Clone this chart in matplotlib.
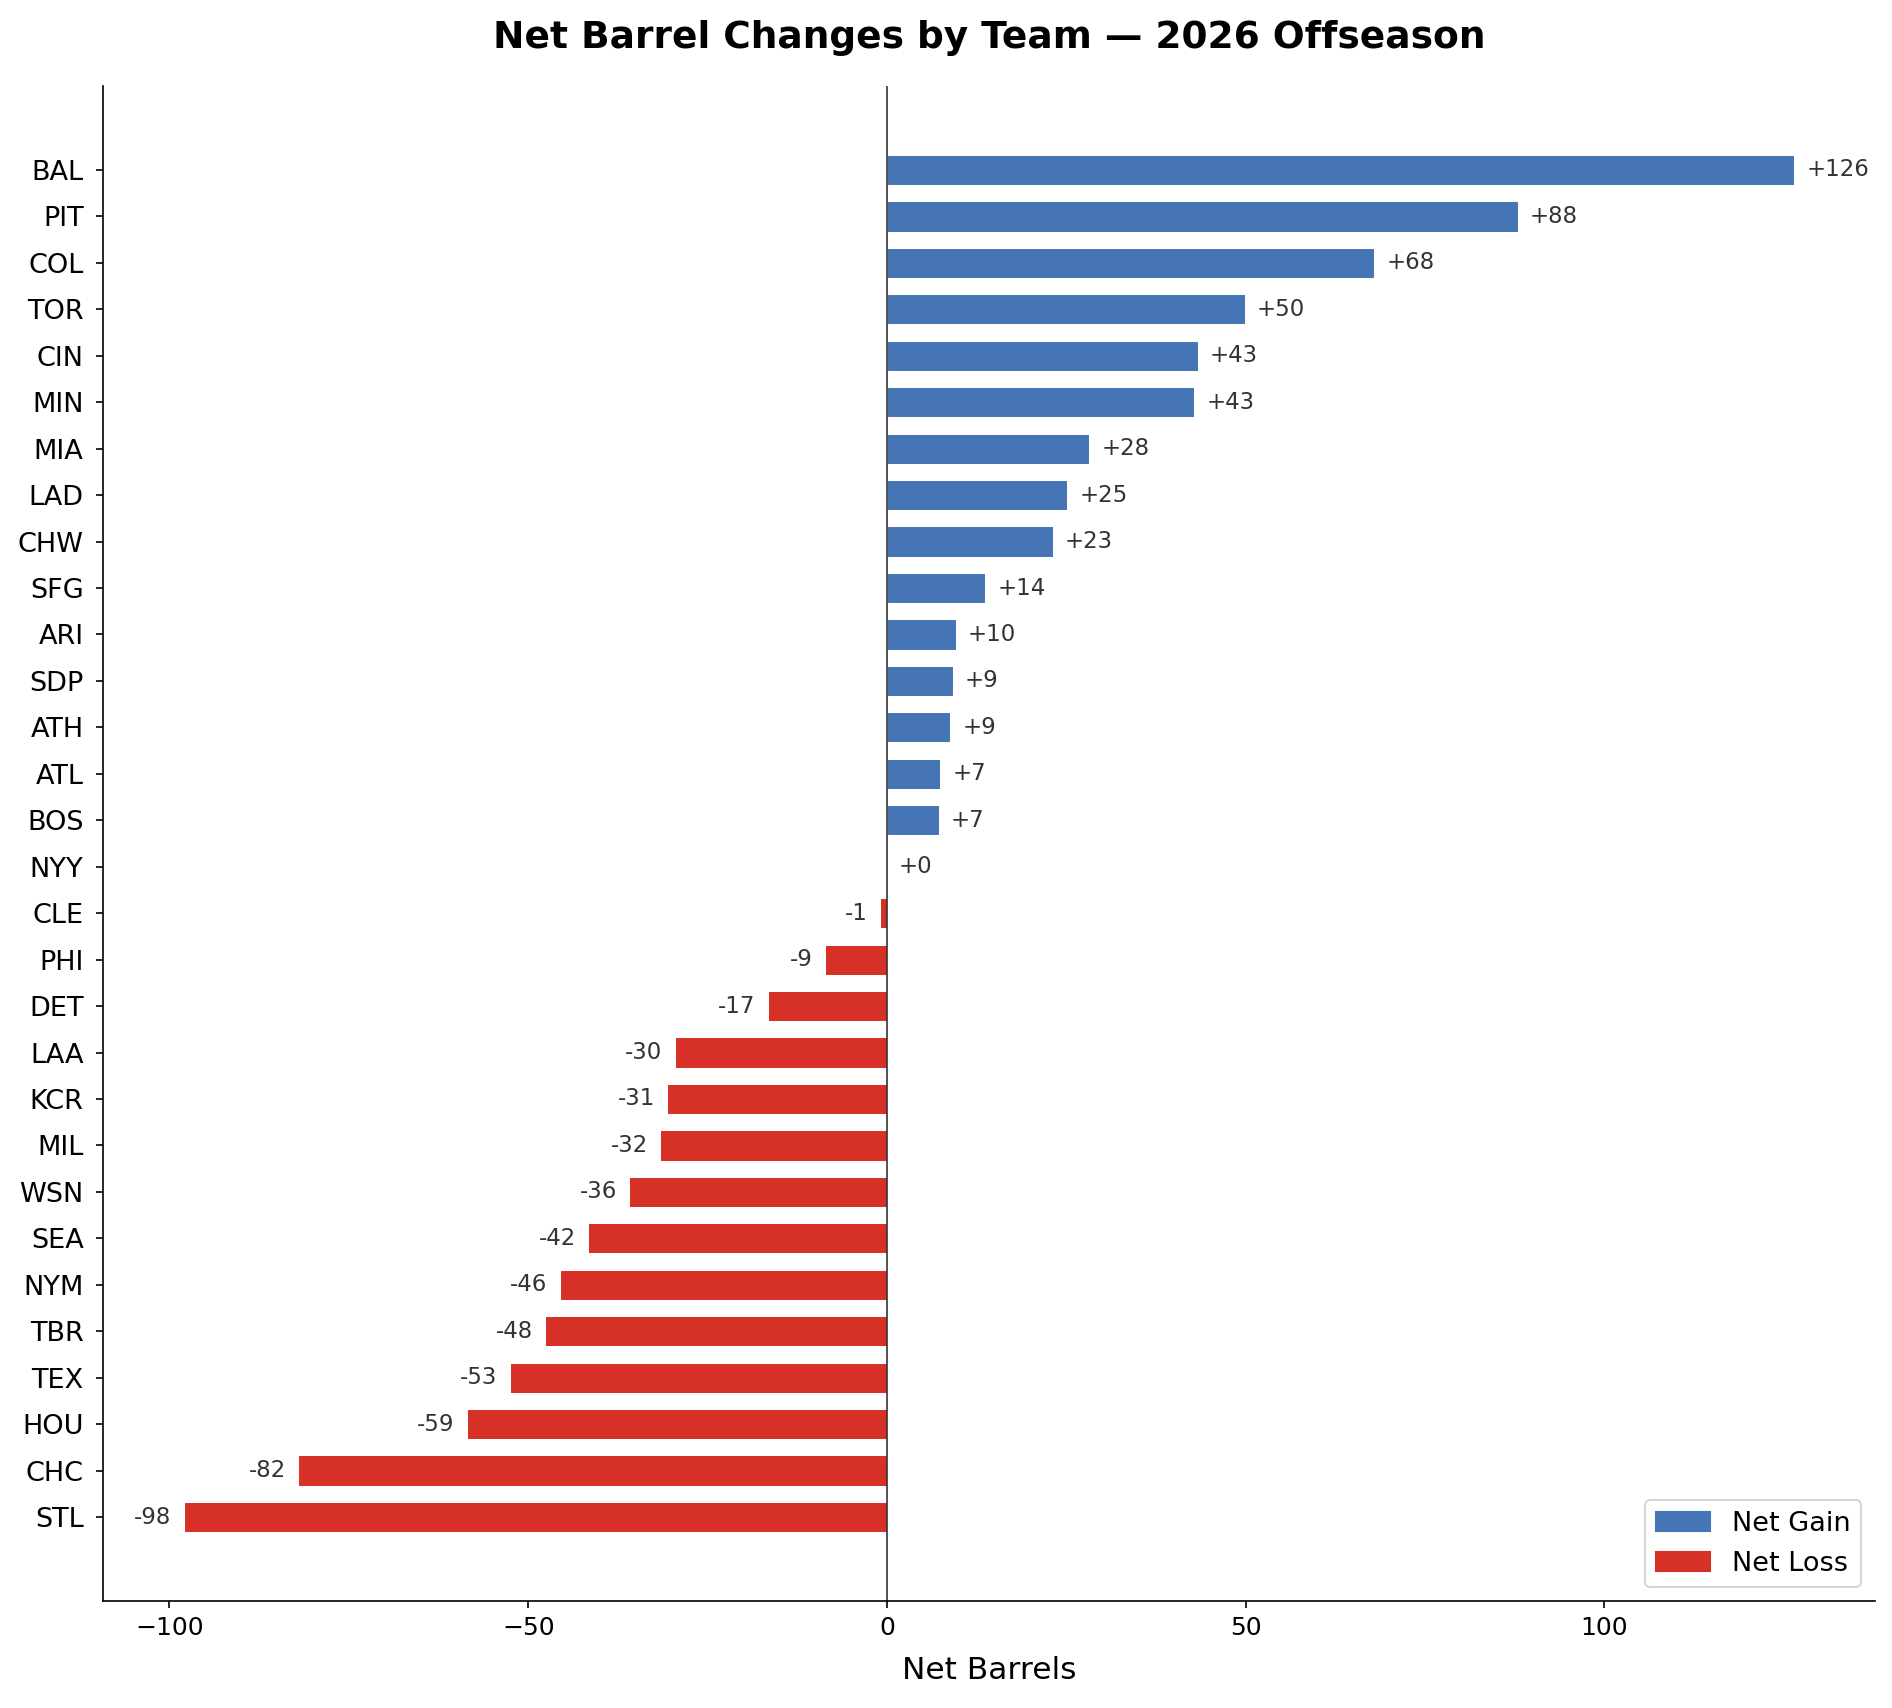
import matplotlib
matplotlib.use('Agg')
import matplotlib.pyplot as plt
import numpy as np
from matplotlib.patches import Patch

# teams, top to bottom
teams = ['BAL', 'PIT', 'COL', 'TOR', 'CIN', 'MIN', 'MIA', 'LAD', 'CHW', 'SFG',
         'ARI', 'SDP', 'ATH', 'ATL', 'BOS', 'NYY', 'CLE', 'PHI', 'DET', 'LAA',
         'KCR', 'MIL', 'WSN', 'SEA', 'NYM', 'TBR', 'TEX', 'HOU', 'CHC', 'STL']
net_barrels = [126.5, 87.9, 67.9, 49.9, 43.3, 42.8, 28.2, 25.1, 23.1, 13.7,
               9.6, 9.2, 8.8, 7.4, 7.2, 0.0, -1.0, -8.6, -16.6, -29.6,
               -30.6, -31.6, -35.9, -41.6, -45.6, -47.6, -52.6, -58.6, -82.1, -98.0]

gain_color = '#4575b4'
loss_color = '#d73027'

fig = plt.figure(figsize=(1893 / 150, 1708 / 150), dpi=150)
ax = fig.add_axes([103.3 / 1893, 107 / 1708, (1875 - 103.3) / 1893, (1601 - 86) / 1708])

y = np.arange(len(teams))
colors = [gain_color if v >= 0 else loss_color for v in net_barrels]
ax.barh(y, net_barrels, height=0.65, color=colors, edgecolor='white', linewidth=0.5)
ax.axvline(0, color='#333333', linewidth=0.8)

# value labels
for yi, v in zip(y, net_barrels):
    if v >= 0:
        ax.text(v + 1.7, yi, f'{v:+.0f}', va='center', ha='left', fontsize=11, color='#333333')
    else:
        ax.text(v - 1.7, yi, f'{v:+.0f}', va='center', ha='right', fontsize=11, color='#333333')

ax.set_yticks(y)
ax.set_yticklabels(teams)
ax.invert_yaxis()
ax.tick_params(axis='x', labelsize=12)
ax.tick_params(axis='y', labelsize=13, pad=6)
ax.set_xlabel('Net Barrels', fontsize=15, labelpad=8)
ax.set_title('Net Barrel Changes by Team \u2014 2026 Offseason', fontsize=18,
             fontweight='bold', pad=18)

ax.spines['top'].set_visible(False)
ax.spines['right'].set_visible(False)

handles = [Patch(color=gain_color, label='Net Gain'), Patch(color=loss_color, label='Net Loss')]
ax.legend(handles=handles, loc='lower right', fontsize=13)

plt.savefig('out.png', dpi=150)
